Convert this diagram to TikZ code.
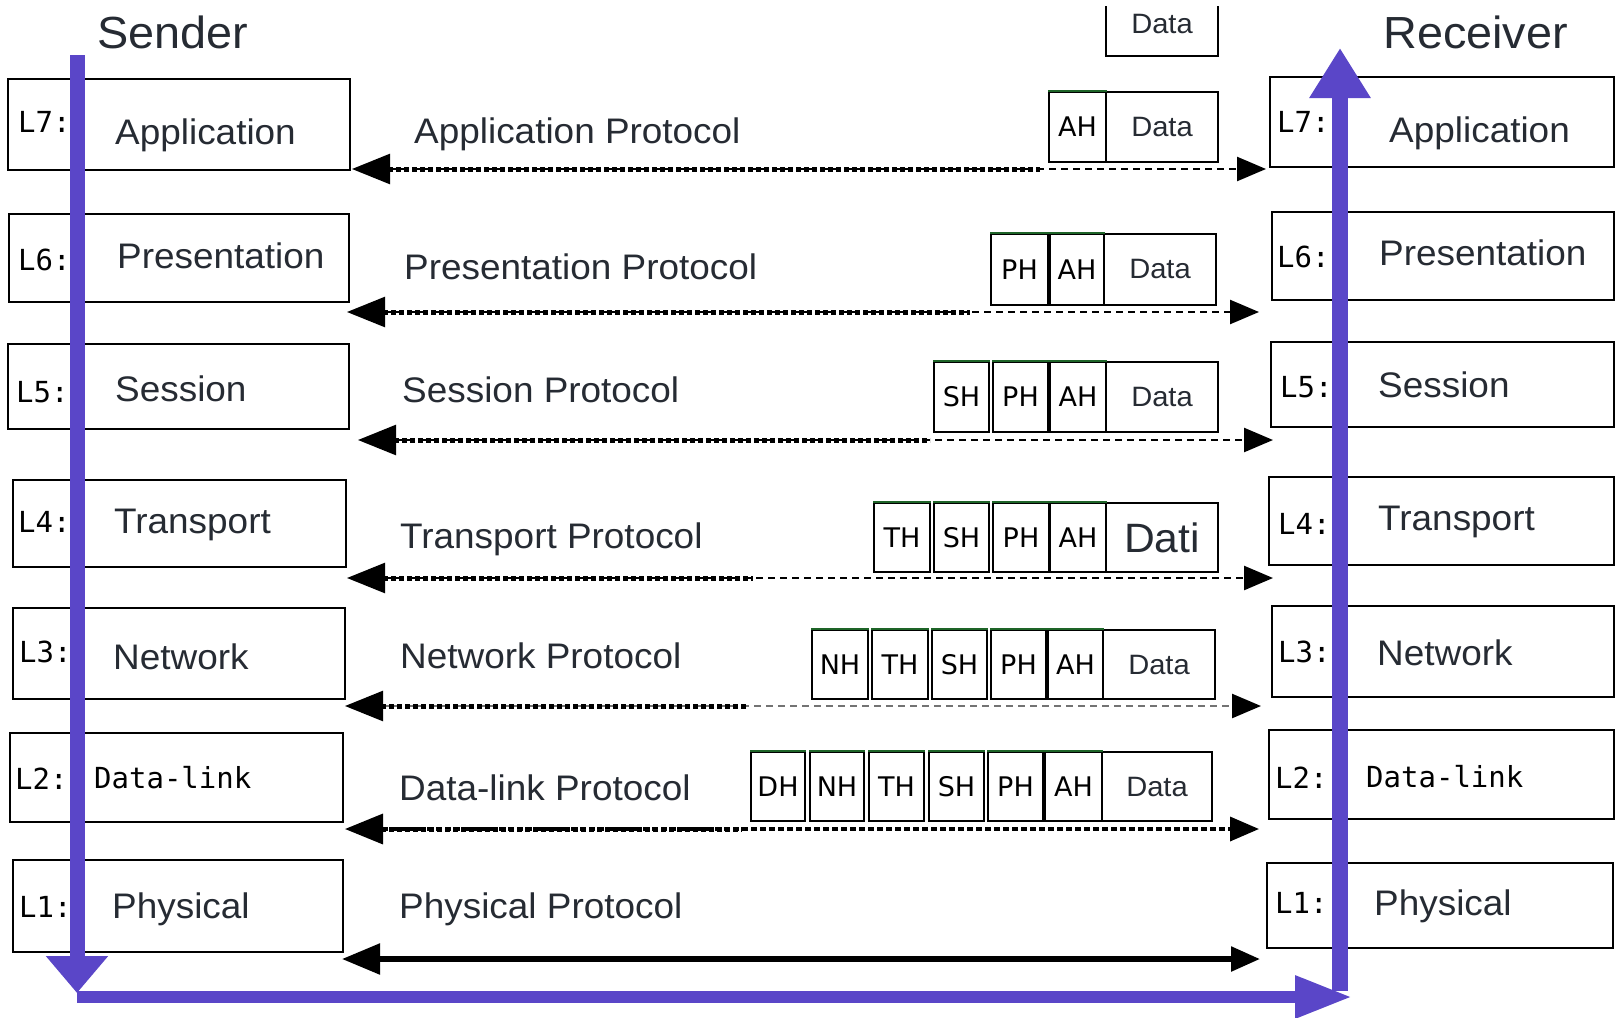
\documentclass[tikz,border=0pt]{standalone}
\usepackage{fontspec}
\setmainfont{Liberation Sans}[FakeStretch=1.04]
\newfontfamily\pixmono{DejaVu Sans Mono}
\newfontfamily\pixsans{DejaVu Sans}
\usetikzlibrary{arrows.meta}
\definecolor{osiblue}{RGB}{90,70,200}
\definecolor{txt}{RGB}{38,43,51}
\definecolor{hgreen}{RGB}{30,100,40}
\tikzset{
  layerbox/.style={draw=black, line width=2.6pt, inner sep=0pt, fill=white},
  lname/.style={anchor=base west, inner sep=0pt, text=txt, font=\fontsize{35.5}{40}\selectfont},
  pixname/.style={anchor=base west, inner sep=0pt, text=black, font=\pixmono\fontsize{29}{33}\selectfont},
  llab/.style={anchor=base west, inner sep=0pt, text=black, font=\pixmono\fontsize{29}{33}\selectfont},
  titletext/.style={anchor=base west, inner sep=0pt, text=txt, font=\fontsize{45}{50}\selectfont},
  hdr/.style={draw=black, line width=2pt, inner sep=0pt, font=\pixsans\fontsize{27}{30}\selectfont},
  hdata/.style={hdr, text=txt, font=\fontsize{28}{32}\selectfont},
  hdrtop/.style={draw=hgreen, line width=2pt},
  blueline/.style={draw=osiblue, line width=15pt},
  proto/.style={line width=2.5pt, dash pattern=on 7pt off 5pt,
    {Triangle[length=38pt,width=30pt,color=black]}-{Triangle[length=29pt,width=24pt,color=black]}},
  thickdots/.style={line width=5pt, dash pattern=on 5pt off 3pt},
}
\begin{document}
\begin{tikzpicture}[x=1pt,y=-1pt]
\useasboundingbox (0,0) rectangle (1616,1017);
\fill[white] (0,0) rectangle (1616,1017);

% ---------- sender boxes ----------
\node[layerbox, minimum width=342pt, minimum height=91pt] (l7) at (179,124.5) {};
\node[layerbox, minimum width=340pt, minimum height=88pt] (l6) at (179,258) {};
\node[layerbox, minimum width=341pt, minimum height=85pt] (l5) at (178.5,386.5) {};
\node[layerbox, minimum width=333pt, minimum height=87pt] (l4) at (179.5,523.5) {};
\node[layerbox, minimum width=332pt, minimum height=91pt] (l3) at (179,653.5) {};
\node[layerbox, minimum width=333pt, minimum height=89pt] (l2) at (176.5,777.5) {};
\node[layerbox, minimum width=330pt, minimum height=92pt] (l1) at (178,906) {};

% ---------- receiver boxes ----------
\node[layerbox, minimum width=344pt, minimum height=90pt] (r7) at (1442,122) {};
\node[layerbox, minimum width=342pt, minimum height=88pt] (r6) at (1443,256) {};
\node[layerbox, minimum width=343pt, minimum height=85pt] (r5) at (1442.5,384.5) {};
\node[layerbox, minimum width=345pt, minimum height=88pt] (r4) at (1441.5,521) {};
\node[layerbox, minimum width=342pt, minimum height=91pt] (r3) at (1443,651.5) {};
\node[layerbox, minimum width=345pt, minimum height=89pt] (r2) at (1441.5,774.5) {};
\node[layerbox, minimum width=346pt, minimum height=85pt] (r1) at (1440,905.5) {};

% ---------- titles ----------
\node[titletext] (sender) at (97,48) {Sender};
\node[titletext] (receiver) at (1383,48) {Receiver};

% ---------- sender labels ----------
\node[llab] (l7lab) at (18,132) {L7:};
\node[llab] (l6lab) at (18,270) {L6:};
\node[llab] (l5lab) at (16,402) {L5:};
\node[llab] (l4lab) at (18,532) {L4:};
\node[llab] (l3lab) at (19,662) {L3:};
\node[llab] (l2lab) at (15,789) {L2:};
\node[llab] (l1lab) at (19,917) {L1:};
\node[lname] (l7name) at (115,144) {Application};
\node[lname] (l6name) at (117,268) {Presentation};
\node[lname] (l5name) at (115,401) {Session};
\node[lname] (l4name) at (114,533) {Transport};
\node[lname] (l3name) at (113,669) {Network};
\node[pixname] (l2name) at (94,788) {Data-link};
\node[lname] (l1name) at (112,918) {Physical};

% ---------- receiver labels ----------
\node[llab] (r7lab) at (1277,132) {L7:};
\node[llab] (r6lab) at (1277,267) {L6:};
\node[llab] (r5lab) at (1280,397) {L5:};
\node[llab] (r4lab) at (1278,534) {L4:};
\node[llab] (r3lab) at (1278,662) {L3:};
\node[llab] (r2lab) at (1275,788) {L2:};
\node[llab] (r1lab) at (1275,913) {L1:};
\node[lname] (r7name) at (1389,142) {Application};
\node[lname] (r6name) at (1379,265) {Presentation};
\node[lname] (r5name) at (1378,397) {Session};
\node[lname] (r4name) at (1378,530) {Transport};
\node[lname] (r3name) at (1377,665) {Network};
\node[pixname] (r2name) at (1366,787) {Data-link};
\node[lname] (r1name) at (1374,915) {Physical};

% ---------- protocol labels ----------
\node[lname] (p7) at (414,143) {Application Protocol};
\node[lname] (p6) at (404,279) {Presentation Protocol};
\node[lname] (p5) at (402,402) {Session Protocol};
\node[lname] (p4) at (400,548) {Transport Protocol};
\node[lname] (p3) at (400,668) {Network Protocol};
\node[lname] (p2) at (399,800) {Data-link Protocol};
\node[lname] (p1) at (399,918) {Physical Protocol};

% ---------- header stacks ----------
\draw[line width=2pt] (1106,6) -- (1106,56) -- (1218,56) -- (1218,6);
\node[text=txt, font=\fontsize{28}{32}\selectfont, inner sep=0pt] (topdata) at (1162,24) {Data};

\node[hdr, minimum width=57pt, minimum height=70pt] (h7a) at (1077.5,127) {AH};
\node[hdata, minimum width=112pt, minimum height=70pt] (h7d) at (1162,127) {Data};

\node[hdr, minimum width=57pt, minimum height=71pt] (h6p) at (1019.5,269.5) {PH};
\node[hdr, minimum width=54pt, minimum height=71pt] (h6a) at (1077,269.5) {AH};
\node[hdata, minimum width=112pt, minimum height=71pt] (h6d) at (1160,269.5) {Data};

\node[hdr, minimum width=55pt, minimum height=70pt] (h5s) at (961.5,397) {SH};
\node[hdr, minimum width=55pt, minimum height=70pt] (h5p) at (1020.5,397) {PH};
\node[hdr, minimum width=56pt, minimum height=70pt] (h5a) at (1078,397) {AH};
\node[hdata, minimum width=112pt, minimum height=70pt] (h5d) at (1162,397) {Data};

\node[hdr, minimum width=56pt, minimum height=69pt] (h4t) at (902,537.5) {TH};
\node[hdr, minimum width=55pt, minimum height=69pt] (h4s) at (961.5,537.5) {SH};
\node[hdr, minimum width=56pt, minimum height=69pt] (h4p) at (1021,537.5) {PH};
\node[hdr, minimum width=56pt, minimum height=69pt] (h4a) at (1078,537.5) {AH};
\node[hdata, minimum width=112pt, minimum height=69pt, font=\fontsize{41}{44}\selectfont] (h4d) at (1162,537.5) {Dati};

\node[hdr, minimum width=56pt, minimum height=69pt] (h3n) at (840,664.5) {NH};
\node[hdr, minimum width=56pt, minimum height=69pt] (h3t) at (900,664.5) {TH};
\node[hdr, minimum width=55pt, minimum height=69pt] (h3s) at (959.5,664.5) {SH};
\node[hdr, minimum width=55pt, minimum height=69pt] (h3p) at (1018.5,664.5) {PH};
\node[hdr, minimum width=55pt, minimum height=69pt] (h3a) at (1075.5,664.5) {AH};
\node[hdata, minimum width=112pt, minimum height=69pt] (h3d) at (1159,664.5) {Data};

\node[hdr, minimum width=54pt, minimum height=69pt] (h2d0) at (778,786.5) {DH};
\node[hdr, minimum width=54pt, minimum height=69pt] (h2n) at (837,786.5) {NH};
\node[hdr, minimum width=55pt, minimum height=69pt] (h2t) at (896.5,786.5) {TH};
\node[hdr, minimum width=55pt, minimum height=69pt] (h2s) at (956.5,786.5) {SH};
\node[hdr, minimum width=55pt, minimum height=69pt] (h2p) at (1015.5,786.5) {PH};
\node[hdr, minimum width=57pt, minimum height=69pt] (h2a) at (1073.5,786.5) {AH};
\node[hdata, minimum width=110pt, minimum height=69pt] (h2d) at (1157,786.5) {Data};

\foreach \n in {h7a,h6p,h6a,h5s,h5p,h5a,h4t,h4s,h4p,h4a,h3n,h3t,h3s,h3p,h3a,h2d0,h2n,h2t,h2s,h2p,h2a}
  \draw[hdrtop] (\n.north west) -- (\n.north east);

% ---------- protocol arrows ----------
\coordinate (pl7) at (352,169);  \coordinate (pr7) at (1266,169);  \coordinate (s7) at (1040,169);
\coordinate (pl6) at (347,312);  \coordinate (pr6) at (1259,312);  \coordinate (s6) at (970,312);
\coordinate (pl5) at (358,440);  \coordinate (pr5) at (1273,440);  \coordinate (s5) at (930,440);
\coordinate (pl4) at (347,578);  \coordinate (pr4) at (1273,578);  \coordinate (s4) at (753,578);
\coordinate (pl3) at (345,706);  \coordinate (pr3) at (1261,706);  \coordinate (s3) at (748,706);
\coordinate (pl2) at (345,829);  \coordinate (pr2) at (1259,829);  \coordinate (s2) at (742,829);
\coordinate (pl1) at (342,959);  \coordinate (pr1) at (1260,959);

\draw[proto] (pl7) -- (pr7);
\draw[thickdots] ([xshift=36pt]pl7) -- (s7);
\draw[proto] (pl6) -- (pr6);
\draw[thickdots] ([xshift=36pt]pl6) -- (s6);
\draw[proto] (pl5) -- (pr5);
\draw[thickdots] ([xshift=36pt]pl5) -- (s5);
\draw[proto] (pl4) -- (pr4);
\draw[thickdots] ([xshift=36pt]pl4) -- (s4);
\draw[proto, draw=black!55] (pl3) -- (pr3);
\draw[thickdots] ([xshift=36pt]pl3) -- (s3);
\draw[proto, line width=3.5pt, dash pattern=on 6pt off 3pt] (pl2) -- (pr2);
\draw[thickdots] ([xshift=36pt]pl2) -- (s2);
\draw[proto, line width=5.5pt, solid] (pl1) -- (pr1);

% ---------- blue flow ----------
\coordinate (sTop) at (77,55);
\coordinate (sBot) at (77,993);
\coordinate (hStart) at (77,997);
\coordinate (hEnd) at (1352,997);
\coordinate (rBot) at (1340,991);
\coordinate (rTop) at (1340,48);
\draw[blueline, -{Triangle[length=37pt,width=60pt]}] (sTop) -- (sBot);
\draw[draw=osiblue, line width=12pt, -{Triangle[length=57pt,width=40pt]}] (hStart) -- (hEnd);
\draw[draw=osiblue, line width=16pt, -{Triangle[length=50pt,width=58pt]}] (rBot) -- (rTop);
\end{tikzpicture}
\end{document}
